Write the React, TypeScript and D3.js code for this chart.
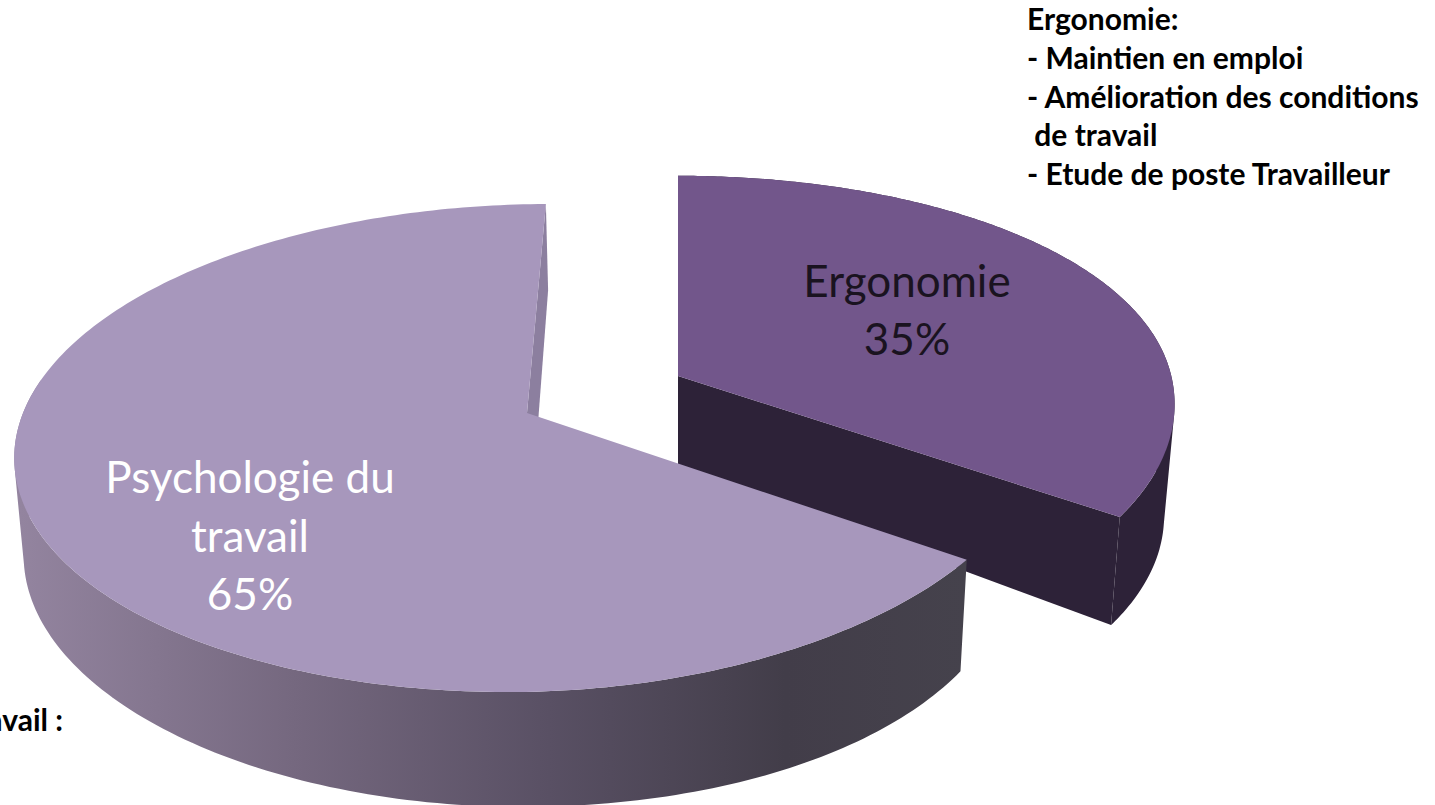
import React from "react";
import * as d3 from "d3";

const categories = ["Ergonomie", "Psychologie du travail"];
const shares = [35, 65];
const sliceLabelLines = [["Ergonomie", "35%"], ["Psychologie du", "travail", "65%"]];
const noteLines = ["Ergonomie:", "- Maintien en emploi", "- Amélioration des conditions", " de travail", "- Etude de poste Travailleur"];
const clippedNote = "Psychologie du travail :";
const gradientOffsets = [0, 0.29, 0.56, 0.81, 1];
const gradientColors = ["#93849f", "#75687f", "#595064", "#423d49", "#45424c"];

type Disk = { x: number; y: number; rx: number; ry: number; sh: number; p: number; q: number; shp: number; ty: number };
const faces: { top: Disk; bottom: Disk }[] = [
  {
    top: { x: 678, y: 376, rx: 491, ry: 229, sh: 0, p: 0.1435, q: 0, shp: 21, ty: -8.4 },
    bottom: { x: 678, y: 465, rx: 483, ry: 238, sh: 0, p: 0.18, q: 0.01, shp: 0, ty: 7 },
  },
  {
    top: { x: 527, y: 413, rx: 509, ry: 239, sh: -21.6, p: 0.1435, q: -0.01, shp: 0, ty: -11 },
    bottom: { x: 532, y: 502, rx: 487, ry: 250, sh: -19, p: 0.18, q: 0.02, shp: 21, ty: 11 },
  },
];
const topColors = ["#72568b", "#a797bc"];
const sideColors = ["#2d2238", "url(#sideGrad)"];
const wallColors = ["#2d2238", "#8c7f9f"];

const project = (d: Disk, a: number): [number, number] => {
  const u = Math.sin(a);
  const v = -Math.cos(a);
  const w = 1 - d.p * v + d.q * u;
  return [
    d.x + (d.rx * u + d.sh * v + d.shp * v * Math.max(v, 0)) / w,
    d.y + (d.ry * v + d.ty * u * Math.max(u, 0)) / w,
  ];
};
const apex = (d: Disk): [number, number] => [d.x, d.y];

export default function App() {
  const arcs = d3.pie<number>().sort(null)(shares);
  const line = d3.line();
  const font = "Lato, 'Open Sans', sans-serif";
  const hiddenFrom = 1.55 * Math.PI;
  return (
    <svg width={1435} height={805} style={{ position: "absolute", left: 0, top: 0, display: "block", background: "#fff" }}>
      <defs>
        <linearGradient id="sideGrad" gradientUnits="userSpaceOnUse" x1={20} x2={965} y1={0} y2={0}>
          {gradientOffsets.map((o, i) => <stop key={i} offset={o} stopColor={gradientColors[i]} />)}
        </linearGradient>
      </defs>
      {shares.map((_, i) => {
        const { top, bottom } = faces[i];
        const a0 = arcs[i].startAngle;
        const a1 = arcs[i].endAngle;
        const steps = d3.range(0, 241).map((k) => a0 + ((a1 - a0) * k) / 240);
        const sideSteps = steps.filter((a) => a <= hiddenFrom);
        let side = "";
        for (let k = 0; k < sideSteps.length - 1; k++) {
          const q = [project(top, sideSteps[k]), project(top, sideSteps[k + 1]), project(bottom, sideSteps[k + 1]), project(bottom, sideSteps[k])] as [number, number][];
          const area = d3.polygonArea(q);
          side += line(area > 0 ? q : q.reverse()) + "Z";
        }
        const endWall = [apex(top), project(top, a1), project(bottom, a1), apex(bottom)] as [number, number][];
        const topPts = [apex(top), ...steps.map((a) => project(top, a))] as [number, number][];
        return (
          <g key={categories[i]}>
            <path d={line(endWall) + "Z"} fill={wallColors[i]} />
            <path d={side} fill={sideColors[i]} fillRule="nonzero" />
            <path d={line(topPts) + "Z"} fill={topColors[i]} />
          </g>
        );
      })}
      <g fontFamily={font} fontSize={44} textAnchor="middle">
        {sliceLabelLines[0].map((t, k) => (
          <text key={t} x={907} y={297 + k * 58} fill="#1a1320">{t}</text>
        ))}
        {sliceLabelLines[1].map((t, k) => (
          <text key={t} x={250} y={493 + k * 58.5} fill="#ffffff">{t}</text>
        ))}
      </g>
      <g fontFamily={font} fontSize={30} fontWeight={700} fill="#000">
        {noteLines.map((t, k) => (
          <text key={t} x={1027} y={30 + k * 38.75} style={{ whiteSpace: "pre" }}>{t}</text>
        ))}
        <text x={63} y={731} textAnchor="end">{clippedNote}</text>
      </g>
    </svg>
  );
}
